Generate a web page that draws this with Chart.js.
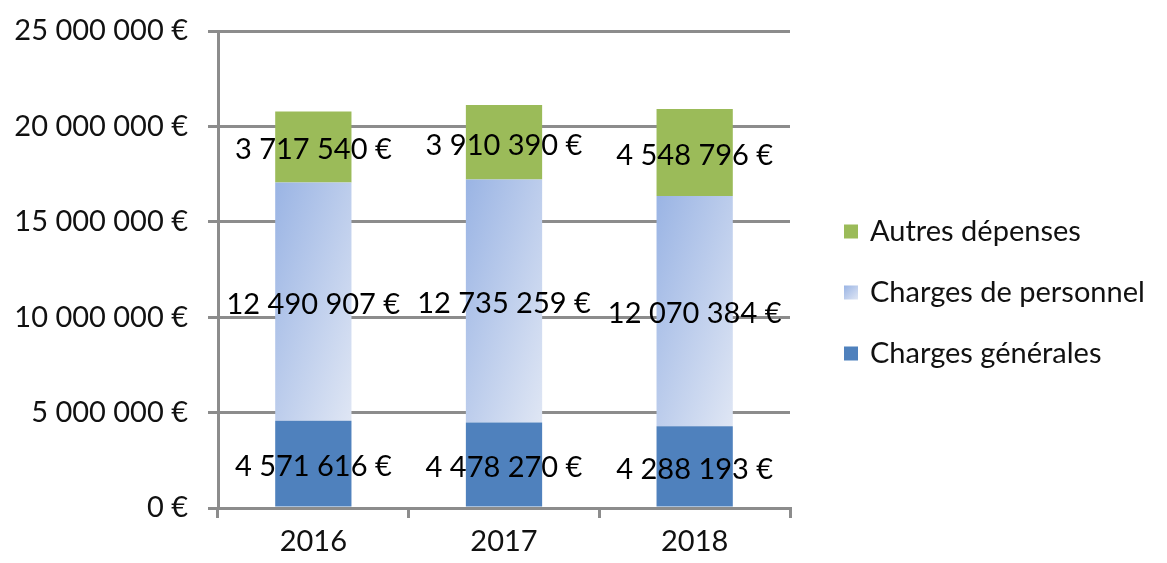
<!DOCTYPE html>
<html>
<head>
<meta charset="utf-8">
<script src="https://cdn.jsdelivr.net/npm/chart.js@4"></script>
<style>
  html, body { margin: 0; padding: 0; background: #fff; }
  #wrap { width: 1167px; height: 563px; }
</style>
</head>
<body>
<div id="wrap"><canvas id="mainChart"></canvas></div>
<script>
const years = ['2016', '2017', '2018'];
const chargesGenerales = [4571616, 4478270, 4288193];
const chargesPersonnel = [12490907, 12735259, 12070384];
const autresDepenses = [3717540, 3910390, 4548796];
const yTicks = [0, 5000000, 10000000, 15000000, 20000000, 25000000];

const FONT = "Lato, 'Open Sans', sans-serif";
const fmt = v => v.toLocaleString('fr-FR').replace(/[\u202F\u00A0]/g, ' ') + ' €';

// diagonal gradient (top-left dark -> bottom-right light) over a box
function boxGradient(ctx, x0, y0, w, h) {
  const k = 2 * w * h / (h * h + w * w);
  const g = ctx.createLinearGradient(x0, y0, x0 + h * k, y0 + w * k);
  g.addColorStop(0, '#9AB4E4');
  g.addColorStop(1, '#DFE6F4');
  return g;
}

function personnelFill(context) {
  const chart = context.chart;
  const { chartArea, scales } = chart;
  if (!chartArea || !scales.x) return '#B9CBEC';
  const i = context.dataIndex;
  const cx = scales.x.getPixelForValue(i);
  const w = (chartArea.width / years.length) * 0.4;
  const top = scales.y.getPixelForValue(chargesGenerales[i] + chargesPersonnel[i]);
  const bottom = scales.y.getPixelForValue(chargesGenerales[i]);
  return boxGradient(chart.ctx, cx - w / 2, top, w, bottom - top);
}

// draws the value centered in each segment
const segmentLabels = {
  id: 'segmentLabels',
  afterDatasetsDraw(chart) {
    const ctx = chart.ctx;
    ctx.save();
    ctx.font = '29px ' + FONT;
    ctx.fillStyle = '#000';
    ctx.textAlign = 'center';
    ctx.textBaseline = 'middle';
    chart.data.datasets.forEach((ds, i) => {
      chart.getDatasetMeta(i).data.forEach((bar, j) => {
        const y = (bar.y + bar.base) / 2;
        ctx.fillText(fmt(ds.data[j]), bar.x, y + 3);
      });
    });
    ctx.restore();
  }
};

// legend on the right, top item = last dataset
const sideLegend = {
  id: 'sideLegend',
  afterDraw(chart) {
    const ctx = chart.ctx;
    const { chartArea } = chart;
    const x = chartArea.right + 54;
    const midY = (chartArea.top + chartArea.bottom) / 2 + 23;
    const step = 61;
    ctx.save();
    ctx.font = '29px ' + FONT;
    ctx.textBaseline = 'middle';
    const n = chart.data.datasets.length;
    chart.data.datasets.forEach((ds, i) => {
      const row = n - 1 - i;
      const y = midY + (row - (n - 1) / 2) * step;
      ctx.fillStyle = i === 1 ? boxGradient(ctx, x, y - 7, 14, 14) : ds.backgroundColor;
      ctx.fillRect(x, y - 7, 14, 14);
      ctx.fillStyle = '#111';
      ctx.fillText(ds.label, x + 26, y);
    });
    ctx.restore();
  }
};

Chart.defaults.font.family = FONT;
Chart.defaults.font.size = 29;
Chart.defaults.color = '#222';

new Chart(document.getElementById('mainChart'), {
  type: 'bar',
  data: {
    labels: years,
    datasets: [
      { label: 'Charges générales', data: chargesGenerales, backgroundColor: '#4F81BD' },
      { label: 'Charges de personnel', data: chargesPersonnel, backgroundColor: personnelFill },
      { label: 'Autres dépenses', data: autresDepenses, backgroundColor: '#9BBB59' }
    ]
  },
  options: {
    responsive: true,
    maintainAspectRatio: false,
    animation: false,
    barPercentage: 0.4,
    categoryPercentage: 1,
    layout: { padding: { top: 31, right: 377, left: 0, bottom: 0 } },
    plugins: {
      legend: { display: false },
      tooltip: { enabled: false }
    },
    scales: {
      x: {
        stacked: true,
        grid: { offset: true, drawOnChartArea: false, color: '#8C8C8C', lineWidth: 3, tickLength: 10 },
        border: { color: '#8C8C8C', width: 3 },
        ticks: { color: '#111', padding: 6 },
        afterFit(scale) { scale.height = 55; scale.paddingLeft = 0; scale.paddingRight = 0; }
      },
      y: {
        stacked: true,
        min: 0,
        max: 25000000,
        afterBuildTicks(scale) { scale.ticks = yTicks.map(v => ({ value: v })); },
        grid: { color: '#8C8C8C', lineWidth: 3, tickLength: 10 },
        border: { color: '#8C8C8C', width: 3 },
        ticks: { color: '#111', padding: 20, callback: v => fmt(v) },
        afterFit(scale) { scale.width = 218; scale.paddingTop = 0; scale.paddingBottom = 0; }
      }
    }
  },
  plugins: [segmentLabels, sideLegend]
});
</script>
</body>
</html>
